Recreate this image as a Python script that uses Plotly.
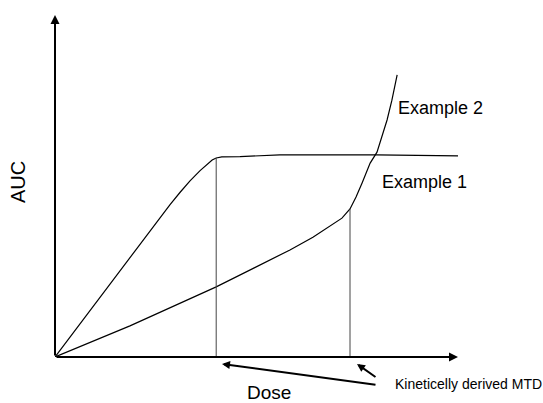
import plotly.graph_objects as go

# Example 1 (accelerating AUC)
ex1_dose = [0, 18.6, 40.0, 58.3, 64.0, 68.2, 71.2, 73.2, 74.7, 76.2, 78.2, 79.9, 82.4, 83.6, 84.9]
ex1_auc = [0, 9.1, 20.5, 31.3, 35.0, 38.3, 40.6, 43.3, 46.8, 50.9, 56.7, 59.9, 69.3, 75.1, 82.5]

# Example 2 (saturating AUC)
ex2_dose = [0, 11.2, 18.6, 23.6, 26.1, 28.5, 31.0, 33.5, 36.0, 37.7, 39.0, 40.0, 41.4, 45.9, 55.8, 79.7, 100]
ex2_auc = [0, 17.5, 29.2, 37.0, 40.8, 44.5, 48.1, 51.5, 54.5, 56.4, 57.6, 58.2, 58.5, 58.6, 59.1, 59.1, 58.8]

# Kinetically derived MTDs
mtd_dose = [40.0, 73.2]
mtd_auc = [58.2, 43.3]

LINE = "black"
FONT = "Liberation Sans, Arial, sans-serif"

# plot area in page pixels: x 55..458, y 15..357
L, T, W, H = 55, 15, 403, 342

fig = go.Figure()

fig.add_trace(go.Scatter(x=ex2_dose, y=ex2_auc, mode="lines",
                         line=dict(color=LINE, width=1.2),
                         hoverinfo="skip", showlegend=False, cliponaxis=False))
fig.add_trace(go.Scatter(x=ex1_dose, y=ex1_auc, mode="lines",
                         line=dict(color=LINE, width=1.2),
                         hoverinfo="skip", showlegend=False, cliponaxis=False))
for d, a in zip(mtd_dose, mtd_auc):
    fig.add_trace(go.Scatter(x=[d, d], y=[0, a], mode="lines",
                             line=dict(color="#444444", width=1),
                             hoverinfo="skip", showlegend=False))


def px_to_paper(px, py):
    # page pixel -> paper coords
    return (px - L) / W, (T + H - py) / H


def arrow(tail, head, size):
    hx, hy = px_to_paper(*head)
    return dict(x=hx, y=hy, xref="paper", yref="paper",
                ax=tail[0] - head[0], ay=tail[1] - head[1], axref="pixel", ayref="pixel",
                showarrow=True, arrowhead=2, arrowsize=size, arrowwidth=2,
                arrowcolor="black", text="")


def label(pos, text, size, xanchor="left", angle=0):
    x, y = px_to_paper(*pos)
    return dict(x=x, y=y, xref="paper", yref="paper", text=text, showarrow=False,
                xanchor=xanchor, yanchor="middle", textangle=angle,
                font=dict(family=FONT, size=size, color="black"))


anns = [
    arrow((55, 357), (458, 357), 0.9),   # x axis
    arrow((55, 357), (55, 15), 0.9),     # y axis
    arrow((377, 385), (222, 364), 0.8),  # MTD pointer 1
    arrow((377, 378), (357, 364), 0.8),  # MTD pointer 2
    label((396, 108), "Example 2", 18),
    label((380, 182), "Example 1", 18),
    label((393, 384), "Kineticelly derived MTD", 14),
    label((269, 392), "Dose", 19, xanchor="center"),
    label((18, 182), "AUC", 20, xanchor="center", angle=-90),
]

fig.update_layout(
    width=543, height=403,
    margin=dict(l=L, r=543 - L - W, t=T, b=403 - T - H, autoexpand=False),
    paper_bgcolor="white", plot_bgcolor="white",
    xaxis=dict(range=[0, 100], visible=False, fixedrange=True),
    yaxis=dict(range=[0, 100], visible=False, fixedrange=True),
    annotations=anns,
    showlegend=False,
)

fig.write_html("out.html", config={"displayModeBar": False},
               post_script="document.body.style.margin='0px';document.body.style.overflow='hidden';")
